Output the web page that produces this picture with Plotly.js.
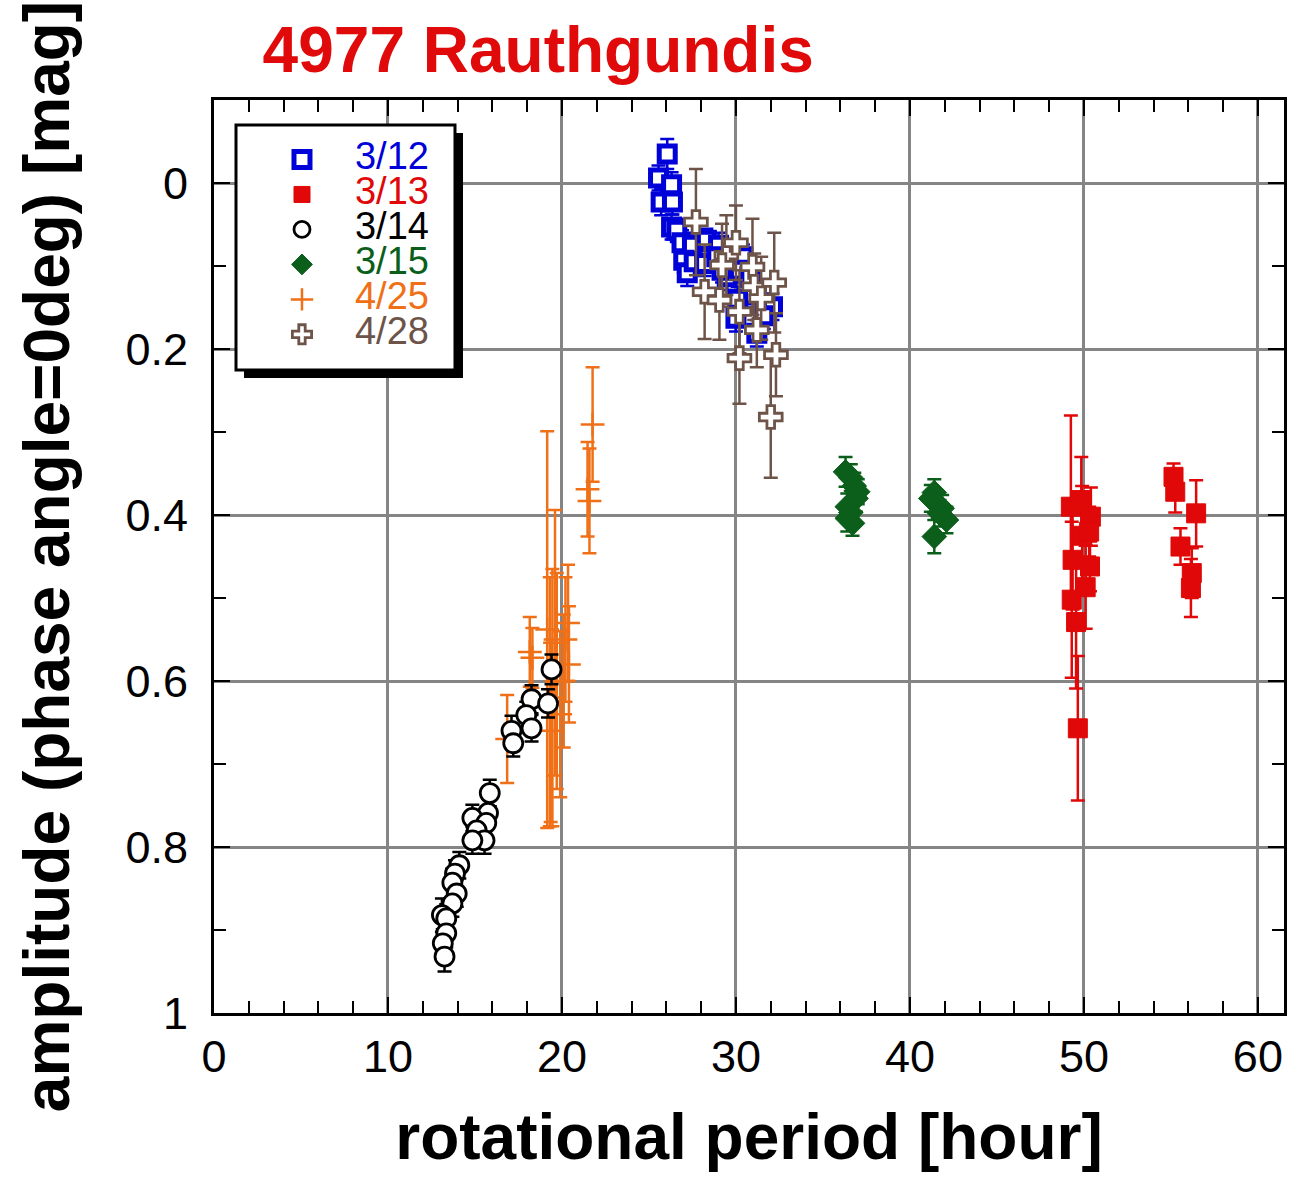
<!DOCTYPE html>
<html>
<head>
<meta charset="utf-8">
<script src="https://cdn.plot.ly/plotly-3.0.1.min.js"></script>
<style>html,body{margin:0;padding:0;background:#fff;}#chart{width:1292px;height:1184px;}</style>
</head>
<body>
<div id="chart"></div>
<script>
// ---- data (rotational period [hour], amplitude [mag], error) ----
const labels = ["3/12", "3/13", "3/14", "3/15", "4/25", "4/28"];

const x0312 = [26.05, 25.55, 26.3, 25.7, 26.35, 26.3, 26.6, 26.9, 27.5, 27.0, 27.2, 27.6, 28.3, 28.4, 28.2, 29.0, 28.9, 29.5, 29.2, 30.4, 30.2, 30.0, 31.2, 32.1, 30.8, 31.0, 31.6, 30.1];
const y0312 = [-0.035, -0.006, 0.002, 0.023, 0.023, 0.053, 0.057, 0.072, 0.075, 0.093, 0.108, 0.095, 0.069, 0.090, 0.097, 0.075, 0.089, 0.113, 0.105, 0.089, 0.105, 0.163, 0.181, 0.149, 0.113, 0.135, 0.160, 0.140];
const e0312 = [0.018, 0.015, 0.015, 0.016, 0.015, 0.015, 0.014, 0.015, 0.015, 0.015, 0.016, 0.015, 0.014, 0.015, 0.015, 0.015, 0.014, 0.016, 0.015, 0.015, 0.015, 0.016, 0.016, 0.016, 0.015, 0.015, 0.016, 0.015];

const x0313 = [49.25, 49.85, 50.4, 49.9, 50.3, 49.35, 50.35, 50.1, 49.3, 49.55, 49.65, 55.15, 55.25, 56.45, 55.55, 56.2, 56.15];
const y0313 = [0.390, 0.382, 0.402, 0.425, 0.420, 0.454, 0.462, 0.487, 0.502, 0.529, 0.657, 0.354, 0.372, 0.398, 0.438, 0.470, 0.488];
const e0313 = [0.110, 0.052, 0.035, 0.060, 0.030, 0.060, 0.030, 0.050, 0.094, 0.080, 0.087, 0.016, 0.025, 0.040, 0.022, 0.030, 0.035];

const x0314 = [19.4, 18.25, 19.2, 17.95, 18.25, 17.1, 17.2, 15.85, 15.75, 14.85, 15.65, 15.1, 15.55, 14.85, 14.1, 13.85, 13.7, 13.95, 13.7, 13.1, 13.35, 13.35, 13.15, 13.25];
const y0314 = [0.586, 0.622, 0.627, 0.641, 0.657, 0.660, 0.675, 0.735, 0.759, 0.765, 0.771, 0.780, 0.792, 0.792, 0.822, 0.832, 0.843, 0.856, 0.868, 0.882, 0.886, 0.904, 0.916, 0.932];
const e0314 = [0.018, 0.017, 0.017, 0.016, 0.016, 0.018, 0.016, 0.016, 0.017, 0.016, 0.016, 0.017, 0.016, 0.016, 0.016, 0.016, 0.017, 0.016, 0.016, 0.020, 0.017, 0.017, 0.017, 0.018];

const x0315 = [36.3, 36.6, 36.8, 37.0, 36.9, 36.4, 36.6, 36.4, 36.7, 41.2, 41.4, 41.6, 41.85, 42.1, 41.4, 41.7];
const y0315 = [0.348, 0.355, 0.365, 0.372, 0.380, 0.390, 0.397, 0.404, 0.410, 0.380, 0.373, 0.388, 0.392, 0.406, 0.426, 0.398];
const e0315 = [0.018, 0.016, 0.016, 0.015, 0.016, 0.016, 0.016, 0.016, 0.015, 0.016, 0.016, 0.016, 0.016, 0.016, 0.020, 0.016];

const x0425 = [16.85, 18.15, 18.3, 19.15, 19.6, 19.45, 19.7, 19.9, 19.35, 19.3, 20.35, 20.2, 20.4, 20.1, 21.76, 21.47, 21.58];
const y0425 = [0.670, 0.565, 0.572, 0.538, 0.554, 0.620, 0.600, 0.640, 0.660, 0.625, 0.530, 0.550, 0.580, 0.600, 0.291, 0.369, 0.383];
const e0425 = [0.053, 0.042, 0.036, 0.239, 0.160, 0.155, 0.130, 0.100, 0.110, 0.150, 0.070, 0.075, 0.070, 0.080, 0.069, 0.057, 0.063];

const x0428 = [27.7, 28.2, 29.45, 29.2, 30.0, 29.05, 30.95, 31.05, 31.45, 30.2, 31.2, 32.2, 30.2, 32.3, 32.0];
const y0428 = [0.047, 0.131, 0.087, 0.099, 0.072, 0.141, 0.101, 0.125, 0.139, 0.155, 0.177, 0.120, 0.211, 0.207, 0.282];
const e0428 = [0.064, 0.057, 0.048, 0.050, 0.045, 0.048, 0.058, 0.040, 0.050, 0.050, 0.045, 0.060, 0.055, 0.050, 0.073];

// ---- styles ----
const cBlue = '#0000d8', cRed = '#e00808', cBlack = '#000000', cGreen = '#0b5f1b', cOrange = '#f07018', cBrown = '#6e5448';
const FONT = 'Liberation Sans, Arial, sans-serif';

function legendName(txt, col) {
  return '<span style="font-size:38px;fill:' + col + '">' + txt + '</span>';
}
function errBar(arr, col) {
  return {type: 'data', array: arr, visible: true, color: col, thickness: 2.5, width: 7};
}

const tr0425 = {x: x0425, y: y0425, name: legendName(labels[4], cOrange), legendrank: 5, mode: 'markers', type: 'scatter',
  marker: {symbol: 'cross-thin-open', size: 17, color: cOrange, line: {color: cOrange, width: 2.5}},
  error_y: errBar(e0425, cOrange)};
const tr0314 = {x: x0314, y: y0314, name: legendName(labels[2], cBlack), legendrank: 3, mode: 'markers', type: 'scatter',
  marker: {symbol: 'circle', size: 19, color: '#ffffff', line: {color: cBlack, width: 2.8}},
  error_y: errBar(e0314, cBlack)};
const tr0312 = {x: x0312, y: y0312, name: legendName(labels[0], cBlue), legendrank: 1, mode: 'markers', type: 'scatter',
  marker: {symbol: 'square', size: 16, color: '#ffffff', line: {color: cBlue, width: 5}},
  error_y: errBar(e0312, cBlue)};
const tr0428 = {x: x0428, y: y0428, name: legendName(labels[5], cBrown), legendrank: 6, mode: 'markers', type: 'scatter',
  marker: {symbol: 'cross', size: 19, color: '#ffffff', line: {color: cBrown, width: 2.8}},
  error_y: errBar(e0428, cBrown)};
const tr0313 = {x: x0313, y: y0313, name: legendName(labels[1], cRed), legendrank: 2, mode: 'markers', type: 'scatter',
  marker: {symbol: 'square', size: 19, color: cRed, line: {color: cRed, width: 1}},
  error_y: errBar(e0313, cRed)};
const tr0315 = {x: x0315, y: y0315, name: legendName(labels[3], cGreen), legendrank: 4, mode: 'markers', type: 'scatter',
  marker: {symbol: 'diamond', size: 19, color: cGreen, line: {color: cGreen, width: 1}},
  error_y: errBar(e0315, cGreen)};

const data = [tr0425, tr0314, tr0312, tr0428, tr0313, tr0315];

const layout = {
  width: 1292, height: 1184,
  margin: {l: 214, r: 8, t: 100, b: 171, pad: 0},
  paper_bgcolor: '#ffffff', plot_bgcolor: '#ffffff',
  font: {family: FONT, color: '#000'},
  title: {text: '4977 Rauthgundis', font: {family: FONT, size: 64, color: '#e00a0a', weight: 'bold'},
          x: 0.303, xref: 'paper', xanchor: 'center', y: 0.958, yref: 'container', yanchor: 'middle'},
  xaxis: {range: [0, 61.5], dtick: 10, tick0: 0, showgrid: true, gridcolor: '#858585', gridwidth: 3,
          zeroline: false, showline: true, linecolor: '#000', linewidth: 3, mirror: 'ticks',
          ticks: 'inside', ticklen: 16, tickwidth: 2, tickcolor: '#000',
          minor: {dtick: 2, ticks: 'inside', ticklen: 12, tickwidth: 2, tickcolor: '#000', showgrid: false},
          tickfont: {family: FONT, size: 45, color: '#000'}, ticklabelstandoff: 2,
          title: {text: 'rotational period [hour]', font: {family: FONT, size: 64, weight: 'bold', color: '#000'}, standoff: 34}},
  yaxis: {range: [1, -0.1], dtick: 0.2, tick0: 0, showgrid: true, gridcolor: '#858585', gridwidth: 3,
          zeroline: false, showline: true, linecolor: '#000', linewidth: 3, mirror: 'ticks',
          ticks: 'inside', ticklen: 16, tickwidth: 2, tickcolor: '#000',
          minor: {dtick: 0.1, ticks: 'inside', ticklen: 12, tickwidth: 2, tickcolor: '#000', showgrid: false},
          tickfont: {family: FONT, size: 45, color: '#000'}, ticklabelstandoff: 14,
          title: {text: 'amplitude (phase angle=0deg) [mag]', font: {family: FONT, size: 64, weight: 'bold', color: '#000'}, standoff: 36}},
  showlegend: true,
  legend: {x: 0.0327, y: 0.9595, xanchor: 'left', yanchor: 'top', bgcolor: 'rgba(0,0,0,0)', borderwidth: 0,
           font: {family: FONT, size: 24.6, color: '#000'}, itemwidth: 96, traceorder: 'normal', itemclick: false},
  shapes: [
    {type: 'rect', xref: 'paper', yref: 'paper', layer: 'above',
     x0: 0.02804, x1: 0.23271, y0: 0.69551, y1: 0.96386, fillcolor: '#000', line: {width: 0}},
    {type: 'rect', xref: 'paper', yref: 'paper', layer: 'above',
     x0: 0.02056, x1: 0.22523, y0: 0.70427, y1: 0.97262, fillcolor: '#fff', line: {color: '#000', width: 3}}
  ]
};

Plotly.newPlot('chart', data, layout, {displayModeBar: false, staticPlot: true});
</script>
</body>
</html>
